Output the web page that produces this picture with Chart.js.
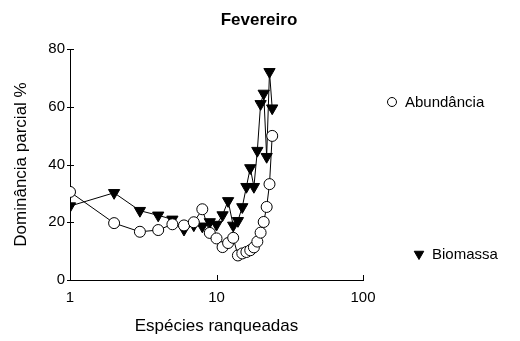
<!DOCTYPE html>
<html>
<head>
<meta charset="utf-8">
<script src="https://cdn.jsdelivr.net/npm/chart.js@4.4.1/dist/chart.umd.min.js"></script>
<style>
  html, body { margin: 0; padding: 0; background: #fff; }
  #wrap { width: 520px; height: 341px; }
</style>
</head>
<body>
<div id="wrap"><canvas id="chart" width="520" height="341"></canvas></div>
<script>
// valores (posto da espécie -> dominância parcial %)
const ranks = [1, 2, 3, 4, 5, 6, 7, 8, 9, 10, 11, 12, 13, 14, 15, 16, 17, 18, 19, 20, 21, 22, 23, 24];
const abundancia = [30.5, 19.7, 16.7, 17.3, 19.3, 18.9, 20.0, 24.5, 16.3, 14.4, 11.4, 12.8, 14.6, 8.5, 9.2, 9.7, 10.3, 11.3, 13.3, 16.4, 20.1, 25.3, 33.2, 49.9];
const biomassa = [25.6, 30.2, 24.0, 22.4, 21.0, 17.5, 19.0, 18.6, 20.1, 19.2, 22.5, 27.4, 18.9, 20.5, 25.3, 32.3, 38.8, 32.3, 44.8, 61.0, 64.6, 42.7, 72.1, 59.5];
const xTicks = [1, 10, 100];
const yTicks = [0, 20, 40, 60, 80];
const seriesLabels = ['Abundância', 'Biomassa'];

const FONT = '"Liberation Sans", Arial, Helvetica, sans-serif';

// título, marcas dos eixos e legenda desenhados à mão
const extras = {
  id: 'extras',
  afterDraw(chart) {
    const ctx = chart.ctx;
    const xs = chart.scales.x, ys = chart.scales.y;
    const area = chart.chartArea;
    ctx.save();
    ctx.strokeStyle = '#000';
    ctx.lineWidth = 1;
    ctx.beginPath();
    yTicks.forEach(v => {
      const py = Math.round(ys.getPixelForValue(v)) + 0.5;
      ctx.moveTo(area.left - 3, py);
      ctx.lineTo(area.left + 4, py);
    });
    xTicks.forEach(v => {
      const px = Math.round(xs.getPixelForValue(v)) + 0.5;
      ctx.moveTo(px, area.bottom);
      ctx.lineTo(px, area.bottom - 5);
    });
    ctx.stroke();

    ctx.fillStyle = '#000';
    ctx.font = 'bold 17px ' + FONT;
    ctx.textAlign = 'center';
    ctx.textBaseline = 'middle';
    ctx.fillText('Fevereiro', 259, 20);

    // legenda (as duas entradas não ficam alinhadas no original)
    const legendPos = [[392, 102], [419, 254]];
    ctx.font = '15px ' + FONT;
    ctx.textAlign = 'left';
    chart.data.datasets.forEach((ds, i) => {
      const [lx, ly] = legendPos[i];
      ctx.fillStyle = ds.pointBackgroundColor;
      ctx.strokeStyle = '#000';
      Chart.helpers.drawPoint(ctx, {
        pointStyle: ds.pointStyle,
        rotation: ds.pointRotation,
        radius: i === 0 ? 4.5 : 5.5,
        borderWidth: 1
      }, lx, ly);
      ctx.fillStyle = '#000';
      ctx.fillText(ds.label, lx + 13, ly + 1);
    });
    ctx.restore();
  }
};

new Chart(document.getElementById('chart'), {
  type: 'line',
  data: {
    datasets: [
      {
        label: seriesLabels[0],
        data: ranks.map((r, i) => ({ x: r, y: abundancia[i] })),
        borderColor: '#000',
        borderWidth: 1,
        pointStyle: 'circle',
        pointRotation: 0,
        pointRadius: 5.5,
        pointBackgroundColor: '#fff',
        pointBorderColor: '#000',
        pointBorderWidth: 1,
        tension: 0,
        fill: false
      },
      {
        label: seriesLabels[1],
        data: ranks.map((r, i) => ({ x: r, y: biomassa[i] })),
        borderColor: '#000',
        borderWidth: 1,
        pointStyle: 'triangle',
        pointRotation: 180,
        pointRadius: 6.5,
        pointBackgroundColor: '#000',
        pointBorderColor: '#000',
        pointBorderWidth: 1,
        tension: 0,
        fill: false
      }
    ]
  },
  options: {
    responsive: false,
    animation: false,
    devicePixelRatio: 1,
    layout: { padding: { top: 49, right: 157, left: 0, bottom: 0 } },
    plugins: {
      legend: { display: false },
      title: { display: false },
      tooltip: { enabled: false }
    },
    scales: {
      x: {
        type: 'logarithmic',
        min: 1,
        max: 100,
        afterBuildTicks: s => { s.ticks = xTicks.map(v => ({ value: v })); },
        afterFit: s => { s.height = 61; },
        ticks: {
          callback: v => String(v),
          color: '#000',
          font: { family: FONT, size: 15 },
          padding: 9,
          maxRotation: 0,
          autoSkip: false
        },
        grid: { display: false, drawTicks: false },
        border: { display: true, color: '#000', width: 1 },
        title: {
          display: true,
          text: 'Espécies ranqueadas',
          color: '#000',
          font: { family: FONT, size: 17 },
          padding: { top: 0, bottom: 4 }
        }
      },
      y: {
        min: 0,
        max: 80,
        afterBuildTicks: s => { s.ticks = yTicks.map(v => ({ value: v })); },
        afterFit: s => { s.width = 70; },
        ticks: {
          color: '#000',
          font: { family: FONT, size: 15 },
          padding: 5
        },
        grid: { display: false, drawTicks: false },
        border: { display: true, color: '#000', width: 1 },
        title: {
          display: true,
          text: 'Dominância parcial %',
          color: '#000',
          font: { family: FONT, size: 17 },
          padding: { top: 11, bottom: 0 }
        }
      }
    }
  },
  plugins: [extras]
});
</script>
</body>
</html>
